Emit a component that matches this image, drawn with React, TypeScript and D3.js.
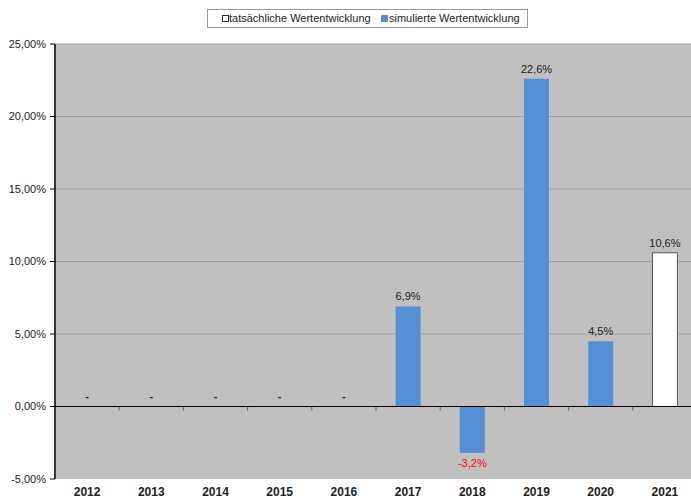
import React from "react";
import * as d3 from "d3";

const years = ["2012", "2013", "2014", "2015", "2016", "2017", "2018", "2019", "2020", "2021"];
const simulated: (number | null)[] = [null, null, null, null, null, 6.9, -3.2, 22.6, 4.5, null];
const actual: (number | null)[] = [null, null, null, null, null, null, null, null, null, 10.6];
const yTicks = [-5, 0, 5, 10, 15, 20, 25];
const legendLabels = ["tatsächliche Wertentwicklung", "simulierte Wertentwicklung"];

const W = 691, H = 499;
const left = 55, right = 697, top = 44, bottom = 479;
const font = "Liberation Sans, Arial, sans-serif";

const fmtAxis = (v: number) => v.toFixed(2).replace(".", ",") + "%";
const fmtVal = (v: number) => v.toFixed(1).replace(".", ",") + "%";

export default function App() {
  const x = d3.scaleBand().domain(years).range([left, right]).paddingInner(0).paddingOuter(0);
  const y = d3.scaleLinear().domain([-5, 25]).range([bottom, top]);
  const bw = 25;
  const y0 = y(0);
  return (
    <svg width={W} height={H} style={{ position: "absolute", left: 0, top: 0 }} fontFamily={font}>
      <rect x={0} y={0} width={W} height={H} fill="#fff" />
      <rect x={left} y={top} width={right - left} height={bottom - top} fill="#C0C0C0" />
      {yTicks.map((t) => (
        <g key={t}>
          {t !== 0 && t !== -5 && (
            <line x1={left} x2={right} y1={y(t)} y2={y(t)} stroke="#A0A0A0" strokeWidth={1} />
          )}
          <line x1={left - 5} x2={left} y1={y(t)} y2={y(t)} stroke="#000" />
          <text x={left - 9} y={y(t)} dy="0.35em" textAnchor="end" fontSize={11} fill="#222">
            {fmtAxis(t)}
          </text>
        </g>
      ))}
      {years.map((yr, i) => {
        const cx = (x(yr) as number) + x.bandwidth() / 2;
        const s = simulated[i];
        const a = actual[i];
        const els: React.ReactNode[] = [];
        if (s !== null) {
          els.push(
            <rect key="s" x={cx - bw / 2} y={Math.min(y(s), y0)} width={bw} height={Math.abs(y(s) - y0)} fill="#558ED5" />
          );
          els.push(
            <text key="st" x={cx} y={s >= 0 ? y(s) - 6 : y(s) + 14} textAnchor="middle" fontSize={11} fill={s >= 0 ? "#222" : "#FF0000"}>
              {fmtVal(s)}
            </text>
          );
        }
        if (a !== null) {
          els.push(
            <rect key="a" x={cx - bw / 2} y={Math.min(y(a), y0)} width={bw} height={Math.abs(y(a) - y0)} fill="#fff" stroke="#555" strokeWidth={1} />
          );
          els.push(
            <text key="at" x={cx} y={y(a) - 6} textAnchor="middle" fontSize={11} fill="#222">
              {fmtVal(a)}
            </text>
          );
        }
        if (s === null && a === null) {
          els.push(
            <text key="d" x={cx} y={y0 - 7} textAnchor="middle" fontSize={11} fontWeight="bold" fill="#222">
              -
            </text>
          );
        }
        els.push(
          <text key="yl" x={cx} y={bottom + 17} textAnchor="middle" fontSize={12} fontWeight="bold" fill="#222">
            {yr}
          </text>
        );
        return <g key={yr}>{els}</g>;
      })}
      {years.slice(1).map((yr) => (
        <line key={yr} x1={x(yr) as number} x2={x(yr) as number} y1={y0} y2={y0 + 4} stroke="#666" />
      ))}
      <line x1={left} x2={right} y1={y0} y2={y0} stroke="#000" strokeWidth={1.2} />
      <line x1={left} x2={left} y1={top} y2={bottom} stroke="#000" strokeWidth={1.5} />
      <g>
        <rect x={207.5} y={9.5} width={320} height={18} fill="#fff" stroke="#999" />
        <rect x={222.5} y={15.5} width={6} height={6} fill="#fff" stroke="#333" />
        <text x={229} y={22} fontSize={11} fill="#222">{legendLabels[0]}</text>
        <rect x={381} y={15} width={7} height={7} fill="#558ED5" />
        <text x={389} y={22} fontSize={11} fill="#222">{legendLabels[1]}</text>
      </g>
    </svg>
  );
}
